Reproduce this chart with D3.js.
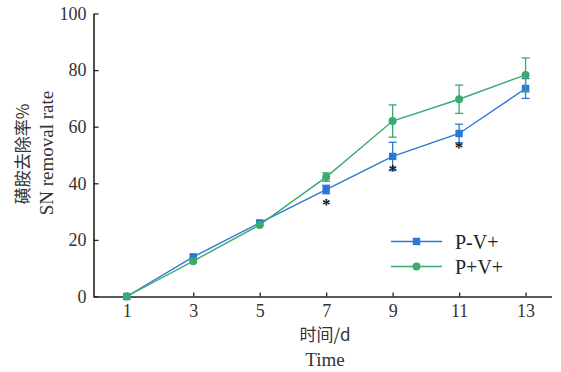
<!DOCTYPE html>
<html><head><meta charset="utf-8">
<script src="https://cdn.jsdelivr.net/npm/d3@7"></script>
<style>body{margin:0;background:#fff}svg{display:block}</style>
</head><body>
<script>
const days = [1, 3, 5, 7, 9, 11, 13];
const seriesNames = ["P-V+", "P+V+"];
const pMinusValues = [0, 14, 26, 37.8, 49.5, 57.6, 73.5];
const pMinusErrors = [0, 0, 0, 1.5, 5, 3.3, 3.5];
const pPlusValues = [0, 12.5, 25.3, 42.2, 62, 69.7, 78.3];
const pPlusErrors = [0, 0, 0, 1.5, 5.7, 5, 6];
const starDays = [7, 9, 11];
const yTicks = [0, 20, 40, 60, 80, 100];
const colors = ["#2a78d6", "#3aaa6e"];

const W = 561, H = 372;
const svg = d3.select("body").append("svg").attr("width", W).attr("height", H);
const x = d3.scaleLinear().domain([0, 13.78]).range([93.5, 551.5]);
const y = d3.scaleLinear().domain([0, 100]).range([296.5, 13.5]);
const font = "'Liberation Serif','Times New Roman',serif";

const xAxis = svg.append("g").attr("transform", `translate(0,${y(0)})`)
  .call(d3.axisBottom(x).tickValues(days).tickSize(-4).tickPadding(8).tickSizeOuter(0));
const yAxis = svg.append("g").attr("transform", `translate(${x(0)},0)`)
  .call(d3.axisLeft(y).tickValues(yTicks).tickSize(-5).tickPadding(7).tickSizeOuter(0));
[xAxis, yAxis].forEach(g => {
  g.select(".domain").attr("stroke", "#222").attr("stroke-width", 1.6);
  g.selectAll(".tick line").attr("stroke", "#222").attr("stroke-width", 1.3);
  g.selectAll(".tick text").attr("font-family", font).attr("font-size", 18).attr("fill", "#333");
});

const series = [
  {name: seriesNames[0], vals: pMinusValues, errs: pMinusErrors, color: colors[0], shape: "square"},
  {name: seriesNames[1], vals: pPlusValues, errs: pPlusErrors, color: colors[1], shape: "circle"}
];
const line = d3.line().x(d => x(d[0])).y(d => y(d[1]));

function marker(g, s, cx, cy) {
  if (s.shape === "square") {
    g.append("rect").attr("x", cx - 3.7).attr("y", cy - 3.7).attr("width", 7.4).attr("height", 7.4).attr("fill", s.color);
  } else {
    g.append("circle").attr("cx", cx).attr("cy", cy).attr("r", 4).attr("fill", s.color);
  }
}

series.forEach(s => {
  const pts = days.map((d, i) => [d, s.vals[i]]);
  const g = svg.append("g");
  g.append("path").datum(pts).attr("d", line).attr("fill", "none").attr("stroke", s.color).attr("stroke-width", 1.4);
  days.forEach((d, i) => {
    const e = s.errs[i];
    if (e > 0) {
      const cx = x(d);
      g.append("line").attr("x1", cx).attr("x2", cx).attr("y1", y(s.vals[i] + e)).attr("y2", y(s.vals[i] - e)).attr("stroke", s.color).attr("stroke-width", 1.3);
      [s.vals[i] + e, s.vals[i] - e].forEach(v => g.append("line").attr("x1", cx - 4).attr("x2", cx + 4).attr("y1", y(v)).attr("y2", y(v)).attr("stroke", s.color).attr("stroke-width", 1.3));
    }
    marker(g, s, x(d), y(s.vals[i]));
  });
});

starDays.forEach(d => {
  const i = days.indexOf(d);
  svg.append("text").attr("x", x(d)).attr("y", y(pMinusValues[i]) + 20).attr("text-anchor", "middle")
    .attr("font-family", font).attr("font-size", 17).attr("font-weight", "bold").attr("fill", "#111").text("*");
});

series.forEach((s, k) => {
  const ly = 241.5 + k * 25;
  svg.append("line").attr("x1", 391).attr("x2", 442).attr("y1", ly).attr("y2", ly).attr("stroke", s.color).attr("stroke-width", 1.4);
  marker(svg, s, 416.5, ly);
  svg.append("text").attr("x", 455).attr("y", ly).attr("dy", "0.35em").attr("font-family", font).attr("font-size", 20).attr("fill", "#222").text(s.name);
});

svg.append("text").attr("x", 325).attr("y", 335).attr("dy", "0.35em").attr("text-anchor", "middle")
  .attr("font-family", "'Noto Sans CJK SC', sans-serif").attr("font-size", 17).attr("fill", "#333").text("时间/d");
svg.append("text").attr("x", 325).attr("y", 359).attr("dy", "0.35em").attr("text-anchor", "middle")
  .attr("font-family", font).attr("font-size", 19).attr("fill", "#333").text("Time");
svg.append("text").attr("transform", "translate(23,154) rotate(-90)").attr("dy", "0.35em").attr("text-anchor", "middle")
  .attr("font-family", "'Noto Sans CJK SC', sans-serif").attr("font-size", 17).attr("fill", "#333").text("磺胺去除率%");
svg.append("text").attr("transform", "translate(46,153) rotate(-90)").attr("dy", "0.35em").attr("text-anchor", "middle")
  .attr("font-family", font).attr("font-size", 19).attr("fill", "#333").text("SN removal rate");
</script>
</body></html>
